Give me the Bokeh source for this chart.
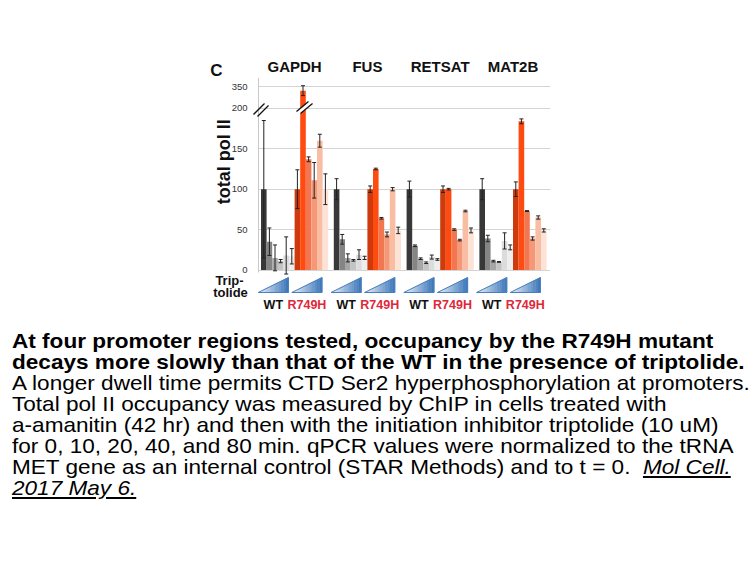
import numpy as np
from bokeh.plotting import figure
from bokeh.models import (ColumnDataSource, Range1d, FixedTicker, Whisker, TeeHead, Div)
from bokeh.layouts import column
from bokeh.core.properties import value
from bokeh.embed import file_html
from bokeh.resources import INLINE

# ---------------- data ----------------
genes = ["GAPDH", "FUS", "RETSAT", "MAT2B"]
strains = ["WT", "R749H"]
y_ticks = [0, 50, 100, 150, 200, 350]

gapdh_wt = [100, 35, 15, 11, 18, 17]
gapdh_wt_err = [85, 17, 16, 2, 23, 9.5]
gapdh_mut = [100, 322, 137, 111, 160, 100]
gapdh_mut_err = [24, 34, 3, 22, 8, 19]

fus_wt = [100, 38, 15, 12, 19, 15]
fus_wt_err = [13, 6, 5, 1, 6, 2]
fus_mut = [100, 125, 64, 44, 100, 49]
fus_mut_err = [4, 1, 1, 3, 2, 4]

retsat_wt = [100, 30, 14, 9, 16, 13]
retsat_wt_err = [10, 1, 1, 1, 2.5, 1]
retsat_mut = [100, 100, 50, 37, 73, 49]
retsat_mut_err = [4, 1, 1, 1, 1, 3]

mat2b_wt = [100, 39, 11, 10, 36, 28]
mat2b_wt_err = [13, 4, 1, 0.5, 10, 3]
mat2b_mut = [100, 184, 73, 39, 65, 49]
mat2b_mut_err = [9, 3, 0.5, 2, 2, 2]

values = {
    ("GAPDH", "WT"): (gapdh_wt, gapdh_wt_err), ("GAPDH", "R749H"): (gapdh_mut, gapdh_mut_err),
    ("FUS", "WT"): (fus_wt, fus_wt_err), ("FUS", "R749H"): (fus_mut, fus_mut_err),
    ("RETSAT", "WT"): (retsat_wt, retsat_wt_err), ("RETSAT", "R749H"): (retsat_mut, retsat_mut_err),
    ("MAT2B", "WT"): (mat2b_wt, mat2b_wt_err), ("MAT2B", "R749H"): (mat2b_mut, mat2b_mut_err),
}

# ---------------- styles ----------------
wt_colors = ["#383838", "#858585", "#a6a6a6", "#c4c4c4", "#dcdcdc", "#eeeeee"]
mut_colors = ["#cf3a0c", "#ff4a10", "#f27650", "#f59878", "#f9bda4", "#fde2d6"]
strain_text_colors = {"WT": "#111111", "R749H": "#e0263a"}
FONT = "Liberation Sans"

BREAK = 200.0
K = 0.18          # compression of the axis above the break


def disp(v):
    v = float(v)
    return v if v <= BREAK else BREAK + (v - BREAK) * K


GENE_STEP = 13
NBARS = 6

# ---------------- bar table ----------------
xs, tops, ups, lows, cols = [], [], [], [], []
for gi, g in enumerate(genes):
    for si, s in enumerate(strains):
        vals, errs = values[(g, s)]
        pal = wt_colors if s == "WT" else mut_colors
        for j, (v, e) in enumerate(zip(vals, errs)):
            xs.append(gi * GENE_STEP + si * NBARS + j)
            tops.append(disp(v))
            ups.append(disp(v + e))
            lows.append(disp(v - e))
            cols.append(pal[j])
bars = ColumnDataSource(dict(x=xs, top=tops, upper=ups, lower=lows, color=cols))

# ---------------- figure geometry ----------------
PX_PER_X = 5.6
PX_PER_Y = 0.808
FRAME_L, FRAME_R, FRAME_T, FRAME_B = 200, 550, 55, 315
X0 = (FRAME_L - 263.3) / PX_PER_X
X1 = X0 + (FRAME_R - FRAME_L) / PX_PER_X
Y1 = (269.5 - FRAME_T) / PX_PER_Y
Y0 = Y1 - (FRAME_B - FRAME_T) / PX_PER_Y
X_AXIS = (258 - 263.3) / PX_PER_X

p = figure(width=756, height=320, x_range=Range1d(X0, X1), y_range=Range1d(Y0, Y1),
           output_backend="svg", toolbar_location=None, x_axis_type=None,
           min_border_left=FRAME_L, min_border_right=756 - FRAME_R,
           min_border_top=FRAME_T, min_border_bottom=320 - FRAME_B)
p.outline_line_color = None
p.background_fill_color = "white"
p.border_fill_color = "white"

tick_pos = [int(round(disp(t))) for t in y_ticks]
p.yaxis.ticker = FixedTicker(ticks=tick_pos)
p.yaxis.major_label_overrides = {tp: str(t) for tp, t in zip(tick_pos, y_ticks)}
p.yaxis.axis_line_color = None
p.yaxis.major_tick_line_color = None
p.yaxis.minor_tick_line_color = None
p.yaxis.major_label_standoff = -(253 - FRAME_L)
p.yaxis.major_label_text_font = FONT
p.yaxis.major_label_text_font_size = "9.5px"
p.yaxis.major_label_text_color = "#333333"
p.ygrid.ticker = FixedTicker(ticks=tick_pos)
p.ygrid.grid_line_color = "#d4d4d4"
p.ygrid.grid_line_width = 1

# keep the grid to the right of the value axis
p.quad(left=[X0], right=[X_AXIS - 0.05], bottom=[Y0], top=[Y1], fill_color="white", line_color=None)

# vertical axis line
p.segment(x0=[X_AXIS], y0=[-3], x1=[X_AXIS], y1=[238], line_color="#c8c8c8", line_width=1)

# bars
p.vbar(x="x", top="top", bottom=0, width=1.0, fill_color="color", line_color=None, source=bars)

wh = Whisker(base="x", upper="upper", lower="lower", source=bars, level="annotation",
             line_color="#222222", line_width=1,
             upper_head=TeeHead(size=4, line_color="#222222", line_width=1),
             lower_head=TeeHead(size=4, line_color="#222222", line_width=1))
p.add_layout(wh)

# axis-break marks (on axis and on the tall GAPDH bar)
p.segment(x0=[6.25], y0=[195.0], x1=[8.45], y1=[207.3], line_color="white", line_width=4)
p.segment(x0=[-1.84, -1.125], y0=[192.5, 190.0], x1=[0.125, 0.84], y1=[206.1, 203.6],
          line_color="#111111", line_width=1.3)
p.segment(x0=[5.84, 6.55], y0=[196.2, 193.7], x1=[7.98, 8.7], y1=[208.5, 206.0],
          line_color="#111111", line_width=1.3)

# gene titles
gene_centers = [gi * GENE_STEP + (2 * NBARS - 1) / 2 for gi in range(len(genes))]
p.text(x=gene_centers, y=[251.9] * len(genes), text=genes,
       text_font=value(FONT), text_font_style="bold", text_font_size="15px",
       text_color="#111111", text_align="center", text_baseline="middle")

# triptolide triangles (gradient approximated with strips) and strain labels
TRI_B, TRI_T = -27.85, -9.3
tri_half = 2.7
shift = -0.8
strip_xs, strip_ys, strip_cols = [], [], []
outline_xs, outline_ys = [], []
lab_x, lab_t, lab_c = [], [], []
nstrip = 12
c0 = np.array([238, 244, 251])
c1 = np.array([58, 117, 184])
for gi in range(len(genes)):
    for si, s in enumerate(strains):
        cx = gi * GENE_STEP + si * NBARS + (NBARS - 1) / 2 + shift
        L, R = cx - tri_half, cx + tri_half
        for k in range(nstrip):
            xa = L + (R - L) * k / nstrip
            xb = L + (R - L) * (k + 1) / nstrip
            ya = TRI_B + (TRI_T - TRI_B) * k / nstrip
            yb = TRI_B + (TRI_T - TRI_B) * (k + 1) / nstrip
            strip_xs.append([xa, xb, xb, xa])
            strip_ys.append([TRI_B, TRI_B, yb, ya])
            f = (k + 0.5) / nstrip
            c = (c0 + (c1 - c0) * f).astype(int)
            strip_cols.append("#%02x%02x%02x" % tuple(c))
        outline_xs.append([L, R, R])
        outline_ys.append([TRI_B, TRI_B, TRI_T])
        lab_x.append(cx)
        lab_t.append(s)
        lab_c.append(strain_text_colors[s])

p.patches(xs=strip_xs, ys=strip_ys, fill_color=strip_cols, line_color=strip_cols, line_width=0.5)
p.patches(xs=outline_xs, ys=outline_ys, fill_color=None, line_color="#4a7fbf", line_width=1)

lab_src = ColumnDataSource(dict(x=lab_x, y=[-43.9] * len(lab_x), text=lab_t, color=lab_c))
p.text(x="x", y="y", text="text", text_color="color", source=lab_src,
       text_font=value(FONT), text_font_style="bold", text_font_size="12.5px",
       text_align="center", text_baseline="middle")

# panel letter, y title and treatment label
p.text(x=[-8.45], y=[246.9], text=["C"], text_font=value(FONT), text_font_style="bold",
       text_font_size="17px", text_color="#111111", text_align="center", text_baseline="middle")
p.text(x=[-7.15], y=[134.0], text=["total pol II"], angle=np.pi / 2,
       text_font=value(FONT), text_font_style="bold", text_font_size="18px",
       text_color="#111111", text_align="center", text_baseline="middle")
p.text(x=[-6.13, -5.95], y=[-13.0, -27.8], text=["Trip-", "tolide"],
       text_font=value(FONT), text_font_style="bold", text_font_size="13px",
       text_color="#111111", text_align="center", text_baseline="middle")

# ---------------- caption ----------------
caption = (
    '<div style="font-family:\'Liberation Sans\',Arial,sans-serif;font-size:21px;'
    'line-height:21px;color:#000;white-space:nowrap;margin:0;padding:0;'
    'position:relative;left:12px;top:10px;transform:scaleX(1.075);transform-origin:0 0;">'
    '<b>At four promoter regions tested, occupancy by the R749H mutant<br>'
    'decays more slowly than that of the WT in the presence of triptolide.</b><br>'
    'A longer dwell time permits CTD Ser2 hyperphosphorylation at promoters.<br>'
    'Total pol II occupancy was measured by ChIP in cells treated with<br>'
    'a-amanitin (42 hr) and then with the initiation inhibitor triptolide (10 uM)<br>'
    'for 0, 10, 20, 40, and 80 min. qPCR values were normalized to the tRNA<br>'
    'MET gene as an internal control (STAR Methods) and to t = 0.&nbsp; '
    '<i><u>Mol Cell.</u></i><br><i><u>2017 May 6.</u></i></div>'
)
div = Div(text=caption, width=756, height=240, margin=(0, 0, 0, 0))

layout = column(p, div, spacing=0)
open("out.html", "w").write(file_html(layout, INLINE))
